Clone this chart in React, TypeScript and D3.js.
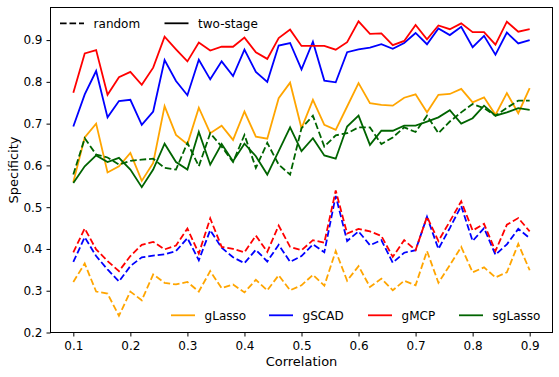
import { useEffect, useRef } from 'react';
import * as d3 from 'd3';

// correlation levels on the x axis
const correlation = [
  0.10, 0.12, 0.14, 0.16, 0.18, 0.20, 0.22, 0.24, 0.26, 0.28,
  0.30, 0.32, 0.34, 0.36, 0.38, 0.40, 0.42, 0.44, 0.46, 0.48,
  0.50, 0.52, 0.54, 0.56, 0.58, 0.60, 0.62, 0.64, 0.66, 0.68,
  0.70, 0.72, 0.74, 0.76, 0.78, 0.80, 0.82, 0.84, 0.86, 0.88, 0.90,
];

// specificity, "random" setting (dashed)
const gLassoRandom = [
  0.321, 0.365, 0.298, 0.293, 0.240, 0.298, 0.277, 0.339, 0.319, 0.315,
  0.321, 0.298, 0.347, 0.306, 0.315, 0.296, 0.326, 0.301, 0.337, 0.301,
  0.313, 0.338, 0.312, 0.395, 0.324, 0.359, 0.309, 0.329, 0.301, 0.324,
  0.313, 0.395, 0.319, 0.361, 0.405, 0.344, 0.356, 0.332, 0.344, 0.412, 0.349,
];
const gSCADRandom = [
  0.369, 0.428, 0.383, 0.351, 0.322, 0.359, 0.380, 0.384, 0.387, 0.395,
  0.426, 0.373, 0.445, 0.403, 0.380, 0.366, 0.398, 0.370, 0.410, 0.369,
  0.383, 0.411, 0.392, 0.527, 0.419, 0.442, 0.409, 0.421, 0.367, 0.391,
  0.397, 0.477, 0.400, 0.450, 0.503, 0.419, 0.450, 0.386, 0.411, 0.448, 0.426,
];
const gMCPRandom = [
  0.392, 0.449, 0.399, 0.371, 0.347, 0.383, 0.410, 0.417, 0.399, 0.408,
  0.449, 0.389, 0.473, 0.405, 0.400, 0.392, 0.432, 0.393, 0.456, 0.405,
  0.397, 0.421, 0.415, 0.540, 0.437, 0.448, 0.442, 0.431, 0.381, 0.421,
  0.397, 0.477, 0.419, 0.466, 0.514, 0.444, 0.460, 0.395, 0.458, 0.474, 0.442,
];
const sgLassoRandom = [
  0.578, 0.665, 0.626, 0.619, 0.602, 0.611, 0.614, 0.616, 0.594, 0.590,
  0.654, 0.598, 0.677, 0.645, 0.608, 0.673, 0.594, 0.654, 0.602, 0.578,
  0.689, 0.719, 0.645, 0.672, 0.677, 0.691, 0.691, 0.651, 0.667, 0.691,
  0.680, 0.719, 0.677, 0.705, 0.727, 0.747, 0.737, 0.719, 0.738, 0.755, 0.755,
];

// specificity, "two-stage" setting (solid)
const gLassoTwoStage = [
  0.560, 0.667, 0.700, 0.583, 0.598, 0.630, 0.563, 0.606, 0.742, 0.673,
  0.651, 0.738, 0.677, 0.695, 0.661, 0.729, 0.669, 0.664, 0.761, 0.798,
  0.689, 0.757, 0.697, 0.685, 0.741, 0.797, 0.749, 0.745, 0.743, 0.762,
  0.770, 0.727, 0.769, 0.771, 0.783, 0.751, 0.763, 0.721, 0.773, 0.725, 0.785,
];
const gSCADTwoStage = [
  0.693, 0.770, 0.826, 0.715, 0.754, 0.757, 0.697, 0.729, 0.852, 0.802,
  0.768, 0.853, 0.806, 0.849, 0.814, 0.877, 0.824, 0.800, 0.887, 0.893,
  0.830, 0.896, 0.803, 0.799, 0.871, 0.878, 0.882, 0.890, 0.879, 0.893,
  0.917, 0.890, 0.928, 0.912, 0.932, 0.883, 0.910, 0.865, 0.918, 0.892, 0.900,
];
const gMCPTwoStage = [
  0.774, 0.868, 0.876, 0.769, 0.811, 0.824, 0.793, 0.834, 0.908, 0.878,
  0.849, 0.894, 0.875, 0.884, 0.884, 0.906, 0.871, 0.855, 0.905, 0.925,
  0.886, 0.886, 0.886, 0.877, 0.895, 0.945, 0.915, 0.916, 0.888, 0.898,
  0.936, 0.902, 0.935, 0.926, 0.940, 0.919, 0.919, 0.889, 0.944, 0.920, 0.926,
];
const sgLassoTwoStage = [
  0.558, 0.598, 0.624, 0.608, 0.618, 0.590, 0.548, 0.590, 0.652, 0.608,
  0.590, 0.680, 0.602, 0.651, 0.610, 0.652, 0.622, 0.578, 0.634, 0.691,
  0.634, 0.665, 0.624, 0.616, 0.693, 0.719, 0.649, 0.683, 0.683, 0.695,
  0.695, 0.705, 0.715, 0.732, 0.700, 0.713, 0.743, 0.719, 0.727, 0.737, 0.733,
];

const xTicks = [0.1, 0.2, 0.3, 0.4, 0.5, 0.6, 0.7, 0.8, 0.9];
const yTicks = [0.2, 0.3, 0.4, 0.5, 0.6, 0.7, 0.8, 0.9];

const methodNames = ['gLasso', 'gSCAD', 'gMCP', 'sgLasso'];
const methodColors = ['orange', 'blue', 'red', 'darkgreen'];
const randomSeries = [gLassoRandom, gSCADRandom, gMCPRandom, sgLassoRandom];
const twoStageSeries = [gLassoTwoStage, gSCADTwoStage, gMCPTwoStage, sgLassoTwoStage];

const FONT = 'DejaVu Sans, sans-serif';
const DASH = '6.6,2.9';

const App = () => {
  const ref = useRef<SVGSVGElement>(null);

  useEffect(() => {
    const width = 559;
    const height = 377;
    const left = 50.5, right = 552.5, top = 7.5, bottom = 332.5;

    const svg = d3.select(ref.current);
    svg.selectAll('*').remove();
    svg.attr('width', width).attr('height', height);

    const x = d3.scaleLinear().domain([0.06, 0.94]).range([left, right]);
    const y = d3.scaleLinear().domain([0.2, 0.978]).range([bottom, top]);

    // lines: each method has a dashed (random) and solid (two-stage) curve
    methodNames.forEach((name, m) => {
      const line = d3.line<number>()
        .x((_, i) => x(correlation[i]))
        .y((d) => y(d));

      svg.append('path')
        .attr('d', line(randomSeries[m]))
        .attr('fill', 'none')
        .attr('stroke', methodColors[m])
        .attr('stroke-width', 1.8)
        .attr('stroke-dasharray', DASH);

      svg.append('path')
        .attr('d', line(twoStageSeries[m]))
        .attr('fill', 'none')
        .attr('stroke', methodColors[m])
        .attr('stroke-width', 1.8);
    });

    // axes
    const xAxis = svg.append('g')
      .attr('transform', `translate(0,${bottom})`)
      .call(d3.axisBottom(x).tickValues(xTicks).tickSize(4).tickPadding(4.5).tickFormat(d3.format('.1f')));
    const yAxis = svg.append('g')
      .attr('transform', `translate(${left},0)`)
      .call(d3.axisLeft(y).tickValues(yTicks).tickSize(4).tickPadding(4).tickFormat(d3.format('.1f')));

    [xAxis, yAxis].forEach((g) => {
      g.select('.domain').remove();
      g.attr('font-size', 12).attr('font-family', FONT).attr('color', '#000');
      g.selectAll('line').attr('stroke-width', 1);
    });

    // frame
    svg.append('rect')
      .attr('x', left)
      .attr('y', top)
      .attr('width', right - left)
      .attr('height', bottom - top)
      .attr('fill', 'none')
      .attr('stroke', '#000')
      .attr('stroke-width', 1);

    // axis labels
    svg.append('text')
      .attr('x', (left + right) / 2)
      .attr('y', 366)
      .attr('text-anchor', 'middle')
      .attr('font-family', FONT)
      .attr('font-size', 13)
      .text('Correlation');

    svg.append('text')
      .attr('transform', `translate(18,${(top + bottom) / 2}) rotate(-90)`)
      .attr('text-anchor', 'middle')
      .attr('font-family', FONT)
      .attr('font-size', 13)
      .text('Specificity');

    // legend for line style
    const styleLegend = [
      { label: 'random', dash: DASH, x0: 60 },
      { label: 'two-stage', dash: null, x0: 164.5 },
    ];
    styleLegend.forEach((d) => {
      svg.append('line')
        .attr('x1', d.x0).attr('x2', d.x0 + 24)
        .attr('y1', 23.3).attr('y2', 23.3)
        .attr('stroke', '#000')
        .attr('stroke-width', 1.8)
        .attr('stroke-dasharray', d.dash);
      svg.append('text')
        .attr('x', d.x0 + 33.6)
        .attr('y', 27.8)
        .attr('font-family', FONT)
        .attr('font-size', 12)
        .text(d.label);
    });

    // legend for methods
    const methodLegendX = [171, 269, 368, 459];
    methodNames.forEach((name, m) => {
      const x0 = methodLegendX[m];
      svg.append('line')
        .attr('x1', x0).attr('x2', x0 + 24)
        .attr('y1', 315.3).attr('y2', 315.3)
        .attr('stroke', methodColors[m])
        .attr('stroke-width', 1.8);
      svg.append('text')
        .attr('x', x0 + 33.6)
        .attr('y', 319.8)
        .attr('font-family', FONT)
        .attr('font-size', 12)
        .text(name);
    });
  }, []);

  return (
    <svg
      ref={ref}
      style={{ position: 'absolute', left: 0, top: 0, background: '#fff' }}
    />
  );
};

export default App;
